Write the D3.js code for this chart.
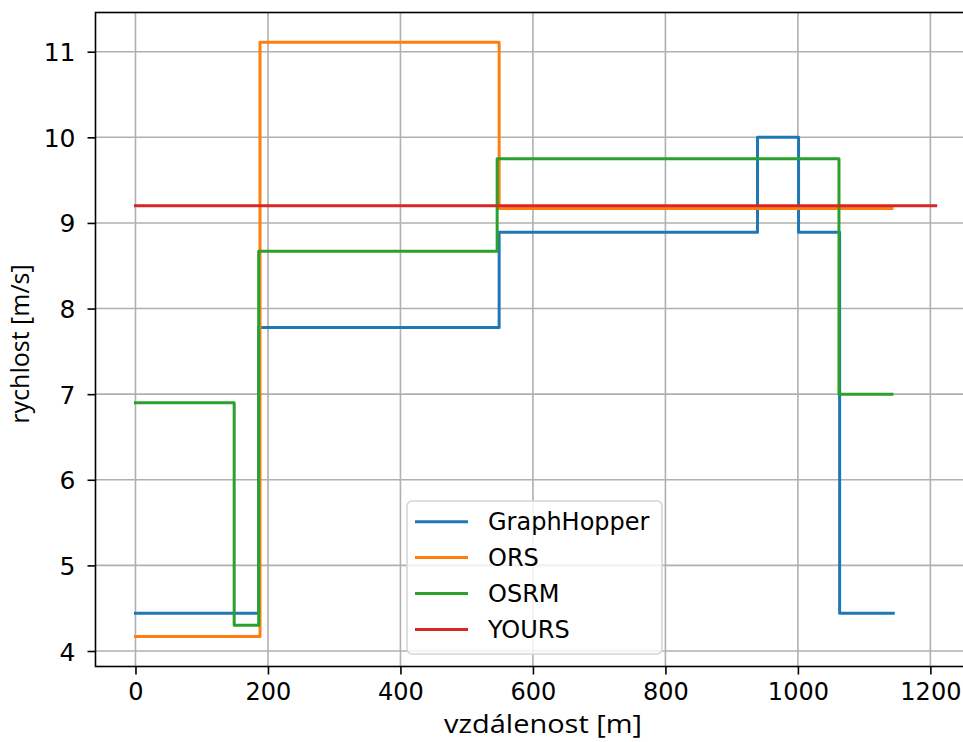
<!DOCTYPE html>
<html>
<head>
<meta charset="utf-8">
<script src="https://cdn.jsdelivr.net/npm/d3@7"></script>
<style>
  body { margin: 0; background: #fff; }
  svg { display: block; }
  .tick text { font-family: "DejaVu Sans", sans-serif; fill: #000; }
</style>
</head>
<body>
<div id="chart"></div>
<script>
// series data (distance in m, speed in m/s), drawn as steps-post
var seriesNames = ["GraphHopper", "ORS", "OSRM", "YOURS"];
var seriesColors = ["#1f77b4", "#ff7f0e", "#2ca02c", "#d62728"];

var ghX = [0, 186, 549, 939, 1001, 1063, 1144];
var ghY = [4.44, 7.78, 8.89, 10.0, 8.89, 4.44, 4.44];

var orsX = [0, 188, 549, 1142];
var orsY = [4.17, 11.11, 9.17, 9.17];

var osrmX = [0, 149, 186, 546, 1062, 1142];
var osrmY = [6.9, 4.3, 8.67, 9.75, 7.0, 7.0];

var yoursX = [0, 1208];
var yoursY = [9.2, 9.2];

var xTicks = [0, 200, 400, 600, 800, 1000, 1200];
var yTicks = [4, 5, 6, 7, 8, 9, 10, 11];

var xLabel = "vzdálenost [m]";
var yLabel = "rychlost [m/s]";

///////////////////////////////////////////
// layout
///////////////////////////////////////////
var W = 963, H = 742;
var plot = { left: 95.5, top: 12.5, right: 975, bottom: 666.5 };

var svg = d3.select("#chart").append("svg")
  .attr("width", W)
  .attr("height", H);

var x = d3.scaleLinear().domain([-60.35, 1267.35]).range([plot.left, plot.right]);
var y = d3.scaleLinear().domain([3.819, 11.458]).range([plot.bottom, plot.top]);

// grid
var grid = svg.append("g").attr("class", "grid");
grid.selectAll(".gx").data(xTicks).enter().append("line")
  .attr("x1", function(d) { return x(d); })
  .attr("x2", function(d) { return x(d); })
  .attr("y1", plot.top).attr("y2", plot.bottom)
  .attr("stroke", "#b0b0b0").attr("stroke-width", 1.6);
grid.selectAll(".gy").data(yTicks).enter().append("line")
  .attr("y1", function(d) { return y(d); })
  .attr("y2", function(d) { return y(d); })
  .attr("x1", plot.left).attr("x2", plot.right)
  .attr("stroke", "#b0b0b0").attr("stroke-width", 1.6);

// clip for lines
svg.append("clipPath").attr("id", "clip")
  .append("rect")
  .attr("x", plot.left).attr("y", plot.top)
  .attr("width", plot.right - plot.left)
  .attr("height", plot.bottom - plot.top);

var lineGen = d3.line()
  .x(function(d) { return x(d[0]); })
  .y(function(d) { return y(d[1]); })
  .curve(d3.curveStepAfter);

var allSeries = [
  d3.zip(ghX, ghY),
  d3.zip(orsX, orsY),
  d3.zip(osrmX, osrmY),
  d3.zip(yoursX, yoursY)
];

svg.append("g").attr("clip-path", "url(#clip)")
  .selectAll("path").data(allSeries).enter().append("path")
  .attr("d", lineGen)
  .attr("fill", "none")
  .attr("stroke", function(d, i) { return seriesColors[i]; })
  .attr("stroke-width", 3)
  .attr("stroke-linecap", "square")
  .attr("stroke-linejoin", "round");

// axes
var xAxis = d3.axisBottom(x).tickValues(xTicks).tickSize(8).tickPadding(7).tickFormat(d3.format("d"));
var yAxis = d3.axisLeft(y).tickValues(yTicks).tickSize(8).tickPadding(12).tickFormat(d3.format("d"));

var gx = svg.append("g").attr("transform", "translate(0," + plot.bottom + ")").call(xAxis);
gx.select(".domain").remove();
gx.selectAll(".tick line").attr("stroke", "#000").attr("stroke-width", 1.6);
gx.selectAll(".tick text").attr("font-size", 24).attr("dy", "0.78em");

var gy = svg.append("g").attr("transform", "translate(" + plot.left + ",0)").call(yAxis);
gy.select(".domain").remove();
gy.selectAll(".tick line").attr("stroke", "#000").attr("stroke-width", 1.6);
gy.selectAll(".tick text").attr("font-size", 25).attr("dy", "0.36em");

// frame
svg.append("rect")
  .attr("x", plot.left).attr("y", plot.top)
  .attr("width", plot.right - plot.left)
  .attr("height", plot.bottom - plot.top)
  .attr("fill", "none").attr("stroke", "#000").attr("stroke-width", 1.6);

// axis labels
svg.append("text")
  .attr("x", 543).attr("y", 733)
  .attr("text-anchor", "middle")
  .attr("font-family", "'Open Sans', sans-serif")
  .attr("font-size", 25)
  .attr("textLength", 198)
  .attr("lengthAdjust", "spacingAndGlyphs")
  .text(xLabel);

svg.append("text")
  .attr("transform", "translate(29,344) rotate(-90)")
  .attr("text-anchor", "middle")
  .attr("font-family", "'Open Sans', sans-serif")
  .attr("font-size", 25)
  .text(yLabel);

// legend
var leg = svg.append("g").attr("transform", "translate(407,501)");
leg.append("rect")
  .attr("width", 255).attr("height", 153)
  .attr("rx", 5).attr("ry", 5)
  .attr("fill", "#fff").attr("fill-opacity", 0.8)
  .attr("stroke", "#d6d6d6").attr("stroke-width", 1.6);

var rows = leg.selectAll(".row").data(seriesNames).enter().append("g")
  .attr("transform", function(d, i) { return "translate(0," + (20.7 + i * 35.9) + ")"; });
rows.append("line")
  .attr("x1", 8).attr("x2", 61)
  .attr("stroke", function(d, i) { return seriesColors[i]; })
  .attr("stroke-width", 3);
rows.append("text")
  .attr("x", 81).attr("dy", "0.36em")
  .attr("font-family", "'DejaVu Sans', sans-serif")
  .attr("font-size", 24)
  .text(function(d) { return d; });
</script>
</body>
</html>
